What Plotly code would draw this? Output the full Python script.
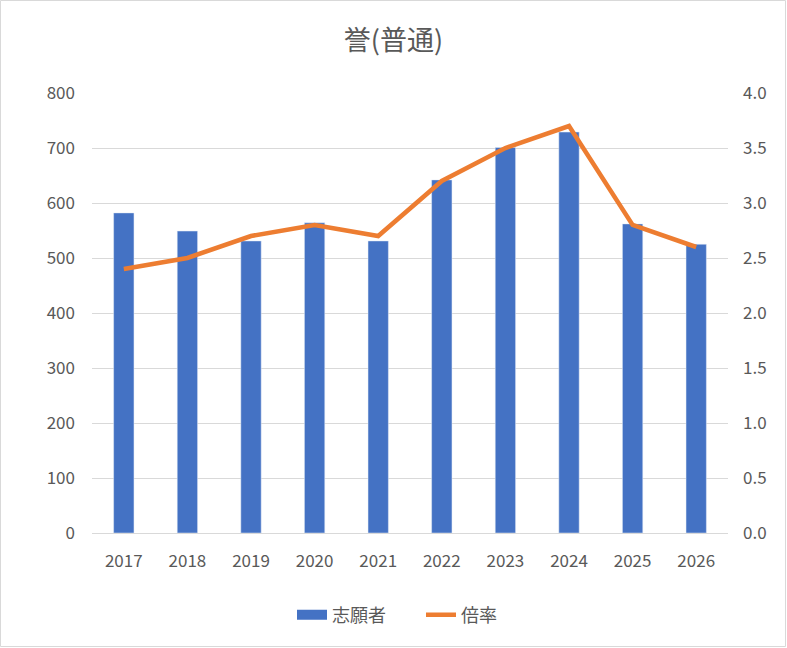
import plotly.graph_objects as go

years = ["2017", "2018", "2019", "2020", "2021", "2022", "2023", "2024", "2025", "2026"]
applicants = [582, 549, 531, 564, 531, 642, 701, 729, 562, 525]
ratio = [2.4, 2.5, 2.7, 2.8, 2.7, 3.2, 3.5, 3.7, 2.8, 2.6]

FONT = "Noto Sans CJK JP"
GREY = "#595959"
BLUE = "#4472C4"
ORANGE = "#ED7D31"

W, H = 787, 648
L, R, T, B = 92, 59, 93, 115
pw, ph = W - L - R, H - T - B

fig = go.Figure()
fig.add_trace(go.Bar(x=years, y=applicants, name="志願者", marker_color=BLUE,
                     width=0.32, yaxis="y", showlegend=False))
# legend entry drawn as a wide block, like the reference
fig.add_trace(go.Scatter(x=[years[0]], y=[None], name="志願者", mode="lines",
                         line=dict(color=BLUE, width=11), yaxis="y", hoverinfo="skip"))
fig.add_trace(go.Scatter(x=years, y=ratio, name="倍率", mode="lines",
                         line=dict(color=ORANGE, width=4.5), yaxis="y2"))

fig.update_layout(
    width=W, height=H,
    margin=dict(l=L, r=R, t=T, b=B),
    paper_bgcolor="white", plot_bgcolor="white",
    font=dict(family=FONT, color=GREY, size=17),
    title=dict(text="誉(普通)", x=0.5, xanchor="center", y=1 - 41 / H, yanchor="middle",
               font=dict(size=27, color=GREY, family=FONT)),
    xaxis=dict(showgrid=False, showline=True, linecolor="#D9D9D9", ticks="",
               ticklabelstandoff=13, tickfont=dict(size=17, color=GREY)),
    yaxis=dict(range=[0, 800], dtick=100, showgrid=True, gridcolor="#D9D9D9", gridwidth=1,
               zeroline=False, showline=False, ticks="", ticklabelstandoff=16,
               tickfont=dict(size=17, color=GREY)),
    yaxis2=dict(range=[0, 4.0], dtick=0.5, tickformat=".1f", overlaying="y", side="right",
                showgrid=False, zeroline=False, showline=False, ticks="", ticklabelstandoff=14,
                tickfont=dict(size=17, color=GREY)),
    legend=dict(orientation="h", x=(292 - L) / pw, xanchor="left", y=-(615 - 533) / ph,
                yanchor="middle", font=dict(size=18, color=GREY), itemwidth=30,
                entrywidth=84, entrywidthmode="pixels"),
    shapes=[dict(type="rect", xref="paper", yref="paper",
                 x0=-(L - 0.5) / pw, x1=1 + (R - 1.5) / pw,
                 y0=-(B - 1.5) / ph, y1=1 + (T - 0.5) / ph,
                 line=dict(color="#D9D9D9", width=1), fillcolor="rgba(0,0,0,0)", layer="below")],
)

fig.write_html("out.html", config={"displayModeBar": False},
               post_script="document.body.style.margin='0';")
